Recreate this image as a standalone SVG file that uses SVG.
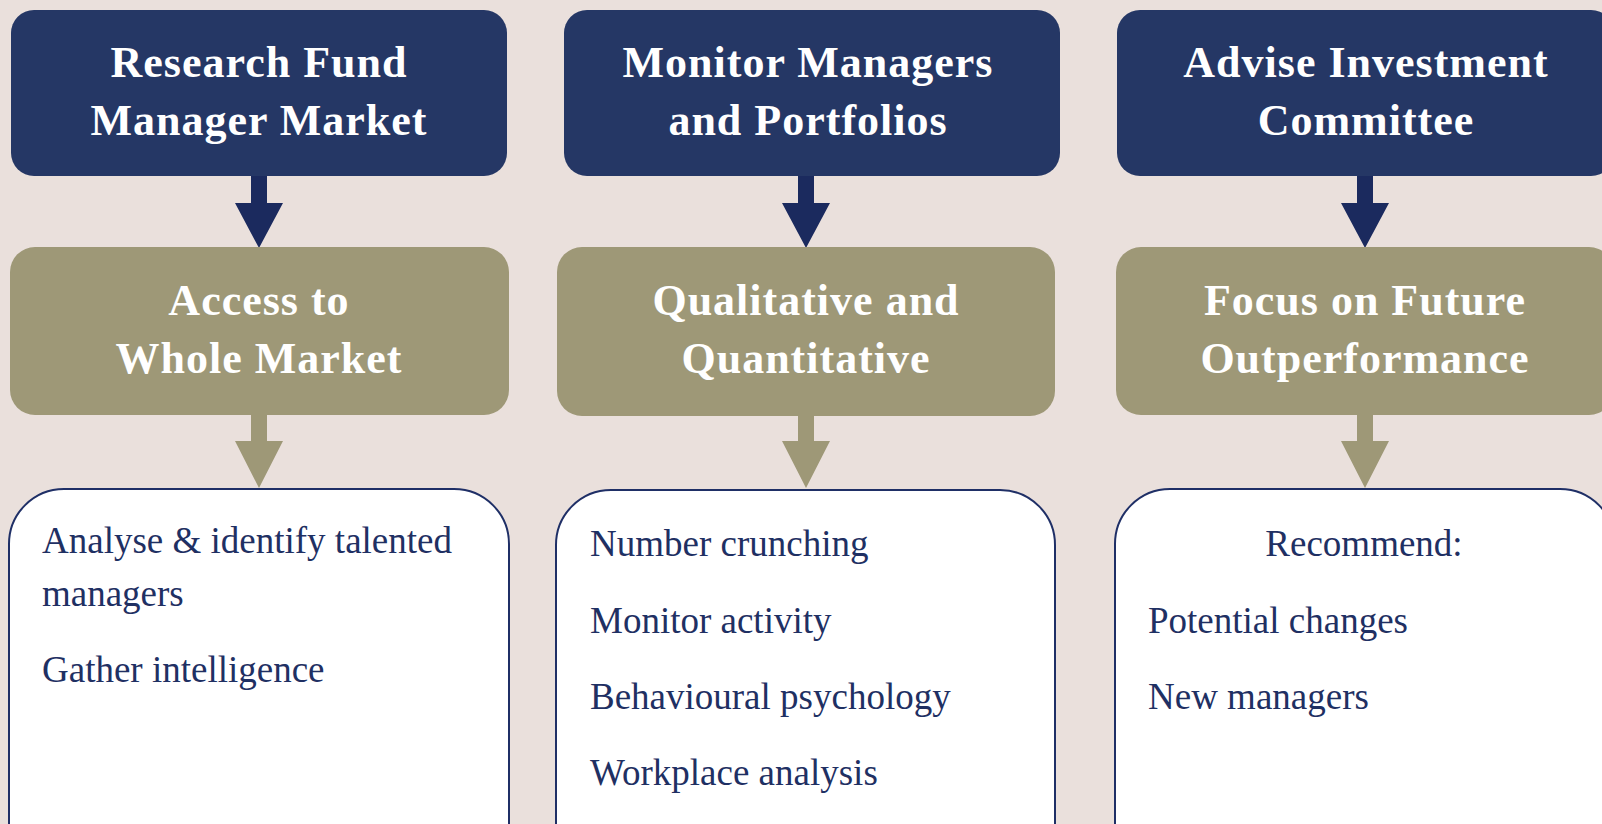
<svg xmlns="http://www.w3.org/2000/svg" width="1602" height="824" viewBox="0 0 1602 824">
<style>
.bg{fill:#EAE0DC}
.top{fill:#253765}
.mid{fill:#9E9877}
.box{fill:#FFFFFF;stroke:#1F2F66;stroke-width:2}
.head{font-family:"Liberation Serif","Times New Roman",serif;font-weight:bold;font-size:44px;letter-spacing:1px;fill:#FFFFFF;text-anchor:middle}
.body{font-family:"Liberation Serif","Times New Roman",serif;font-size:37px;fill:#1F3063}
.ablue{fill:#1B2A5E}
.aolive{fill:#9E9877}
</style>
<rect class="bg" x="0" y="0" width="1602" height="824"/>

<g id="connectors">
  <path class="ablue" d="M251,176 H267 V203 H283 L259,248 L235,203 H251 Z"/>
  <path class="aolive" d="M251,415 H267 V441 H283 L259,488 L235,441 H251 Z"/>
  <path class="ablue" d="M798,176 H814 V203 H830 L806,248 L782,203 H798 Z"/>
  <path class="aolive" d="M798,415 H814 V441 H830 L806,488 L782,441 H798 Z"/>
  <path class="ablue" d="M1357,176 H1373 V203 H1389 L1365,248 L1341,203 H1357 Z"/>
  <path class="aolive" d="M1357,415 H1373 V441 H1389 L1365,488 L1341,441 H1357 Z"/>
</g>

<g id="research-fund">
  <rect class="top" x="11" y="10" width="496" height="166" rx="23"/>
  <text class="head" x="259" y="77">Research Fund</text>
  <text class="head" x="259" y="135">Manager Market</text>
</g>
<g id="monitor-managers">
  <rect class="top" x="564" y="10" width="496" height="166" rx="23"/>
  <text class="head" x="808" y="77">Monitor Managers</text>
  <text class="head" x="808" y="135">and Portfolios</text>
</g>
<g id="advise-committee">
  <rect class="top" x="1117" y="10" width="497" height="166" rx="23"/>
  <text class="head" x="1366" y="77">Advise Investment</text>
  <text class="head" x="1366" y="135">Committee</text>
</g>

<g id="access-market">
  <rect class="mid" x="10" y="247" width="499" height="168" rx="25"/>
  <text class="head" x="259" y="315">Access to</text>
  <text class="head" x="259" y="373">Whole Market</text>
</g>
<g id="qual-quant">
  <rect class="mid" x="557" y="247" width="498" height="169" rx="25"/>
  <text class="head" x="806" y="315">Qualitative and</text>
  <text class="head" x="806" y="373">Quantitative</text>
</g>
<g id="future-outperformance">
  <rect class="mid" x="1116" y="247" width="498" height="168" rx="25"/>
  <text class="head" x="1365" y="315">Focus on Future</text>
  <text class="head" x="1365" y="373">Outperformance</text>
</g>

<g id="detail-research">
  <rect class="box" x="9" y="489" width="500" height="400" rx="55"/>
  <text class="body" x="42" y="553">Analyse &amp; identify talented</text>
  <text class="body" x="42" y="606">managers</text>
  <text class="body" x="42" y="682">Gather intelligence</text>
</g>
<g id="detail-monitor">
  <rect class="box" x="556" y="490" width="499" height="400" rx="55"/>
  <text class="body" x="590" y="556">Number crunching</text>
  <text class="body" x="590" y="633">Monitor activity</text>
  <text class="body" x="590" y="709">Behavioural psychology</text>
  <text class="body" x="590" y="785">Workplace analysis</text>
</g>
<g id="detail-advise">
  <rect class="box" x="1115" y="489" width="500" height="400" rx="55"/>
  <text class="body" x="1364" y="556" text-anchor="middle">Recommend:</text>
  <text class="body" x="1148" y="633">Potential changes</text>
  <text class="body" x="1148" y="709">New managers</text>
</g>
</svg>
